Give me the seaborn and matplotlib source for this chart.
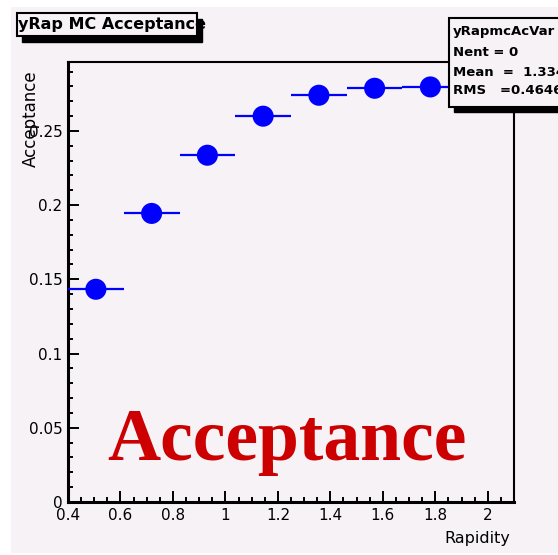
import numpy as np
import pandas as pd
import matplotlib
matplotlib.use("Agg")
import matplotlib.pyplot as plt
from matplotlib.patches import Rectangle
from matplotlib.ticker import MultipleLocator, FixedLocator
import seaborn as sns

# ---- data ----
bin_edges = [0.4, 0.6125, 0.825, 1.0375, 1.25, 1.4625, 1.675, 1.8875, 2.1]
bin_centers = [0.50625, 0.71875, 0.93125, 1.14375, 1.35625, 1.56875, 1.78125, 1.99375]
acceptance = [0.1433, 0.1944, 0.2336, 0.2599, 0.2740, 0.2787, 0.2796, 0.2800]
x_ticks = [0.4, 0.6, 0.8, 1.0, 1.2, 1.4, 1.6, 1.8, 2.0]
x_tick_labels = ["0.4", "0.6", "0.8", "1", "1.2", "1.4", "1.6", "1.8", "2"]
y_ticks = [0.0, 0.05, 0.1, 0.15, 0.2, 0.25]
y_tick_labels = ["0", "0.05", "0.1", "0.15", "0.2", "0.25"]
stats_lines = ["yRapmcAcVar", "Nent = 0", "Mean  =  1.334", "RMS   =0.4646"]
title_text = "yRap MC Acceptance"
big_label = "Acceptance"

df = pd.DataFrame({"x": bin_centers, "y": acceptance,
                   "lo": bin_edges[:-1], "hi": bin_edges[1:]})

sns.set_theme(style="white")
plt.rcParams["font.family"] = ["DejaVu Sans"]
plt.rcParams["text.color"] = "black"
plt.rcParams["xtick.color"] = "black"
plt.rcParams["ytick.color"] = "black"
plt.rcParams["xtick.labelcolor"] = "black"
plt.rcParams["ytick.labelcolor"] = "black"

W, H = 558, 555
fig = plt.figure(figsize=(W / 100, H / 100), dpi=100)
fig.patch.set_facecolor("white")

bg = "#f6f2f6"
fig.patches.append(Rectangle((11 / W, 1 - 553 / H), (W - 11) / W, (553 - 7) / H,
                             transform=fig.transFigure, facecolor=bg,
                             edgecolor="none", zorder=0))

ax = fig.add_axes([68 / W, 1 - 502 / H, (514 - 68) / W, (502 - 62) / H])
ax.set_facecolor(bg)
ax.set_zorder(1)

ax.hlines(df["y"], df["lo"], df["hi"], color="#0000ff", lw=1.6, zorder=3)
sns.scatterplot(data=df, x="x", y="y", ax=ax, color="#0000ff", s=230,
                edgecolor="none", zorder=4, legend=False)

ax.set_xlim(0.4, 2.1)
ax.set_ylim(0, 0.2964)
ax.xaxis.set_major_locator(FixedLocator(x_ticks))
ax.set_xticklabels(x_tick_labels)
ax.xaxis.set_minor_locator(MultipleLocator(0.05))
ax.yaxis.set_major_locator(FixedLocator(y_ticks))
ax.set_yticklabels(y_tick_labels)
ax.yaxis.set_minor_locator(MultipleLocator(0.01))

ax.tick_params(which="both", direction="in", left=True, bottom=True,
               right=False, top=False, color="black", width=1.4)
ax.tick_params(which="major", length=8, labelsize=11, pad=4, labelcolor="black")
ax.tick_params(which="minor", length=3.5)
for s in ax.spines.values():
    s.set_color("black")
    s.set_linewidth(1.5)
ax.spines["left"].set_linewidth(2.2)
ax.spines["bottom"].set_linewidth(2.2)

ax.set_xlabel("")
ax.set_ylabel("")
fig.text(510 / W, 1 - 538 / H, "Rapidity", ha="right", va="center", fontsize=11.5,
         color="black")
fig.text(31 / W, 1 - 70 / H, "Acceptance", ha="center", va="top",
         rotation=90, fontsize=12, color="black")

# title box with shadow
tx0, ty0, tx1, ty1 = 17, 13, 197, 36
fig.patches.append(Rectangle(((tx0 + 5) / W, 1 - (ty1 + 6) / H), (tx1 - tx0) / W,
                             (ty1 - ty0) / H, transform=fig.transFigure,
                             facecolor="black", edgecolor="black", zorder=5))
fig.patches.append(Rectangle((tx0 / W, 1 - ty1 / H), (tx1 - tx0) / W,
                             (ty1 - ty0) / H, transform=fig.transFigure,
                             facecolor=bg, edgecolor="black", lw=1.5, zorder=6))
fig.text((tx0 + 1) / W, 1 - (ty0 + ty1) / 2 / H, title_text, ha="left", va="center",
         fontsize=11.5, fontweight="bold", color="black", zorder=7)

# stats box with shadow
sx0, sy0, sx1, sy1 = 449, 18, 600, 107
fig.patches.append(Rectangle(((sx0 + 5) / W, 1 - (sy1 + 5) / H), (sx1 - sx0) / W,
                             (sy1 - sy0) / H, transform=fig.transFigure,
                             facecolor="black", edgecolor="black", zorder=5))
fig.patches.append(Rectangle((sx0 / W, 1 - sy1 / H), (sx1 - sx0) / W,
                             (sy1 - sy0) / H, transform=fig.transFigure,
                             facecolor=bg, edgecolor="black", lw=1.5, zorder=6))
row_y = [32, 52, 72, 91]
for ry, line in zip(row_y, stats_lines):
    fig.text((sx0 + 4) / W, 1 - ry / H, line, ha="left", va="center",
             fontsize=9.5, fontweight="bold", color="black", zorder=7)

fig.text(107 / W, 1 - 460 / H, big_label, ha="left", va="baseline",
         fontsize=53, fontweight="bold", family=["Liberation Serif", "DejaVu Serif"],
         color="#cc0000", zorder=8)

fig.savefig("out.png", dpi=100)
